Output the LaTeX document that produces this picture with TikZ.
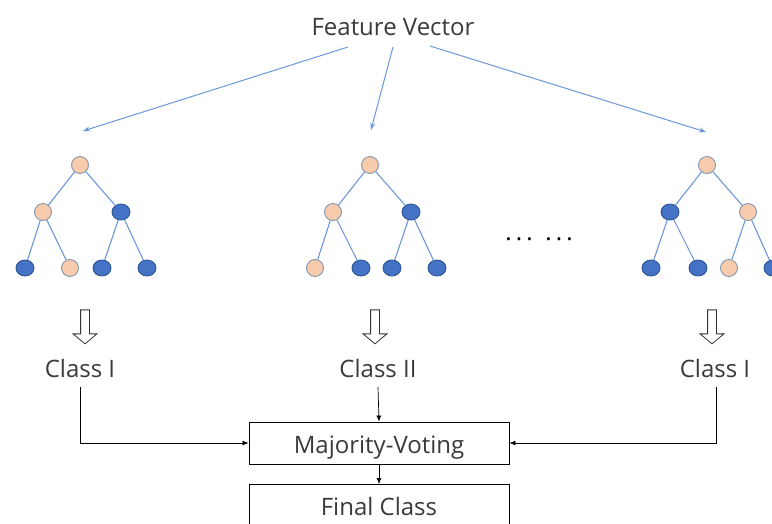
\documentclass[tikz,border=0pt]{standalone}
\usepackage{fontspec}
\setmainfont{Open Sans}
\usetikzlibrary{shapes.arrows,shapes.geometric,arrows.meta}
\definecolor{peach}{HTML}{F8CBAD}
\definecolor{peachline}{HTML}{8497B0}
\definecolor{deepblue}{HTML}{4472C4}
\definecolor{deepblueline}{HTML}{2F5597}
\definecolor{edgeblue}{HTML}{6C97DA}
\definecolor{txt}{HTML}{3A3A3A}
\newcommand{\dotgap}{\hspace{4.1pt}}
\tikzset{
  pnode/.style={circle, fill=peach, draw=peachline, line width=0.9pt, minimum size=17pt, inner sep=0pt},
  bnode/.style={ellipse, fill=deepblue, draw=deepblueline, line width=0.9pt, minimum width=18pt, minimum height=16pt, inner sep=0pt},
  tedge/.style={edgeblue, line width=1.1pt},
  feed/.style={edgeblue, line width=1pt, -{Stealth[length=7pt,width=5pt]}},
  label/.style={font=\fontsize{24}{28}\selectfont, text=txt, inner sep=0pt, anchor=base},
  hollow/.style={single arrow, draw=black!80, line width=0.8pt, shape border rotate=270,
    minimum height=34pt, inner sep=4pt, single arrow head extend=7.5pt, single arrow tip angle=100},
  flow/.style={black, line width=0.7pt, -{Latex[length=6pt,width=5pt]}},
  box/.style={draw=black, line width=0.9pt, minimum width=260pt, inner sep=0pt}
}
\begin{document}
\begin{tikzpicture}[x=1pt,y=-1pt]
\useasboundingbox (0,0) rectangle (772,523);
\clip (0,0) rectangle (772,523);

% input vector and its three feeds
\node[label] (fv) at (393,35) {Feature Vector};
\coordinate (fvl) at (348,47);
\coordinate (fvm) at (393,47);
\coordinate (fvr) at (430,46);
\coordinate (t1) at (83,131);
\coordinate (t2) at (371,130);
\coordinate (t3) at (706,132);
\draw[feed] (fvl) -- (t1);
\draw[feed] (fvm) -- (t2);
\draw[feed] (fvr) -- (t3);

% tree 1
\node[pnode] (a0) at (80,165) {};
\node[pnode] (a1) at (43,212) {};
\node[bnode] (a2) at (121,212) {};
\node[bnode] (a3) at (25,268) {};
\node[pnode] (a4) at (70,268) {};
\node[bnode] (a5) at (102,268) {};
\node[bnode] (a6) at (147,268) {};
% tree 2
\node[pnode] (b0) at (370,165) {};
\node[pnode] (b1) at (333,212) {};
\node[bnode] (b2) at (411,212) {};
\node[pnode] (b3) at (315,268) {};
\node[bnode] (b4) at (361,268) {};
\node[bnode] (b5) at (392,268) {};
\node[bnode] (b6) at (437,268) {};
% tree 3
\node[pnode] (c0) at (707,165) {};
\node[bnode] (c1) at (670,212) {};
\node[pnode] (c2) at (748,212) {};
\node[bnode] (c3) at (651,268) {};
\node[bnode] (c4) at (698,268) {};
\node[pnode] (c5) at (729,268) {};
\node[bnode] (c6) at (773,268) {};
\foreach \t in {a,b,c}{
  \draw[tedge] (\t0) -- (\t1);
  \draw[tedge] (\t0) -- (\t2);
  \draw[tedge] (\t1) -- (\t3);
  \draw[tedge] (\t1) -- (\t4);
  \draw[tedge] (\t2) -- (\t5);
  \draw[tedge] (\t2) -- (\t6);
}

\node[font=\fontsize{24}{28}\selectfont, inner sep=0pt, text=black, anchor=base] (dots) at (539,240)
  {.\dotgap.\dotgap.\hspace{12.6pt}.\dotgap.\dotgap.};

% per-tree outcomes
\node[hollow] (h1) at (85,325) {};
\node[hollow] (h2) at (375,325) {};
\node[hollow] (h3) at (712,325) {};
\node[label] (k1) at (80,377) {Class I};
\node[label] (k2) at (378,377) {Class II};
\node[label] (k3) at (715,377) {Class I};
\coordinate (k1s) at (80,387);
\coordinate (k2s) at (378,387);
\coordinate (k3s) at (716,387);

% voting and result
\node[box, minimum height=42pt] (mv) at (379,443) {};
\node[label] (mvt) at (379,453) {Majority-Voting};
\node[box, minimum height=50pt, anchor=north] (fc) at (379,484) {};
\node[label] (fct) at (379,515) {Final Class};

\draw[flow] (k1s) |- (mv.west);
\draw[flow] (k2s) -- (mv.north);
\draw[flow] (k3s) |- (mv.east);
\draw[flow] (mv.south) -- (fc.north);
\end{tikzpicture}
\end{document}
